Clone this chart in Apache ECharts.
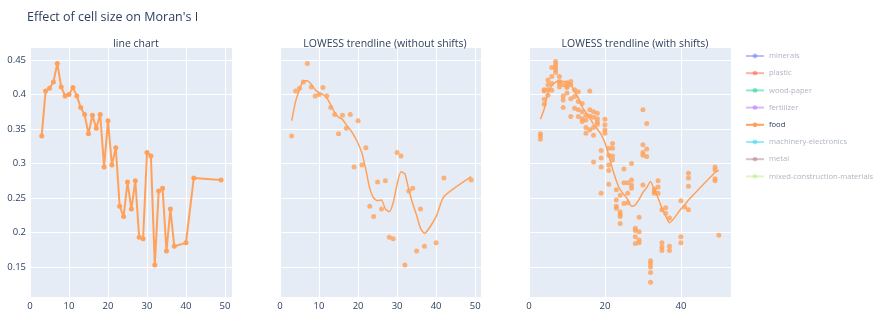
<!DOCTYPE html>
<html>
<head>
<meta charset="utf-8">
<script src="https://cdn.jsdelivr.net/npm/echarts@6/dist/echarts.min.js"></script>
<style>
  html, body { margin: 0; padding: 0; background: #fff; }
  #chart { width: 876px; height: 311px; }
</style>
</head>
<body>
<div id="chart"></div>
<script>
// cell sizes and Moran's I (food)
const cellSizes = [3, 4, 5, 6, 7, 8, 9, 10, 11, 12, 13, 14, 15, 16, 17, 18, 19, 20, 21, 22, 23, 24, 25, 26, 27, 28, 29, 30, 31, 32, 33, 34, 35, 36, 37, 40, 42, 49];
const moranI = [0.340, 0.405, 0.409, 0.418, 0.445, 0.411, 0.398, 0.400, 0.410, 0.398, 0.381, 0.371, 0.343, 0.370, 0.351, 0.371, 0.295, 0.362, 0.298, 0.323, 0.238, 0.223, 0.273, 0.234, 0.275, 0.193, 0.191, 0.316, 0.311, 0.153, 0.260, 0.264, 0.173, 0.234, 0.180, 0.185, 0.279, 0.276];
// lowess fit without shifts
const lowessNoShift = [0.362, 0.390, 0.407, 0.420, 0.420, 0.415, 0.407, 0.403, 0.400, 0.395, 0.385, 0.374, 0.367, 0.364, 0.356, 0.349, 0.340, 0.329, 0.315, 0.291, 0.264, 0.250, 0.246, 0.247, 0.234, 0.230, 0.243, 0.270, 0.288, 0.285, 0.262, 0.242, 0.225, 0.206, 0.199, 0.223, 0.252, 0.281];

// with shifts: several values per cell size
const shiftSizes = [3, 4, 5, 6, 7, 8, 9, 10, 11, 12, 13, 14, 15, 16, 17, 18, 19, 20, 21, 22, 23, 24, 25, 26, 27, 28, 29, 30, 31, 32, 33, 34, 35, 36, 37, 40, 41, 42, 49, 50];
const shiftValues = [
  [0.343, 0.340, 0.335],
  [0.407, 0.405, 0.393, 0.386],
  [0.421, 0.414, 0.407, 0.399],
  [0.439, 0.426, 0.416, 0.406],
  [0.448, 0.444, 0.440, 0.436, 0.432],
  [0.426, 0.419, 0.416, 0.411],
  [0.414, 0.398, 0.392, 0.381],
  [0.417, 0.412, 0.410, 0.402],
  [0.419, 0.414, 0.394, 0.368],
  [0.407, 0.397, 0.380],
  [0.404, 0.390, 0.378, 0.368],
  [0.387, 0.375, 0.365, 0.361],
  [0.370, 0.363, 0.352, 0.344],
  [0.405, 0.378, 0.369, 0.349],
  [0.375, 0.367, 0.352, 0.341, 0.302],
  [0.373, 0.365, 0.360, 0.357],
  [0.319, 0.308, 0.295, 0.257],
  [0.364, 0.356, 0.349, 0.344],
  [0.322, 0.312, 0.298, 0.290, 0.270],
  [0.329, 0.322, 0.311, 0.305],
  [0.262, 0.247, 0.238, 0.235],
  [0.254, 0.230, 0.226, 0.223, 0.213],
  [0.292, 0.272, 0.242],
  [0.272, 0.257, 0.243],
  [0.300, 0.276, 0.269, 0.264],
  [0.206, 0.203, 0.194, 0.184],
  [0.222, 0.201, 0.189, 0.185],
  [0.378, 0.327, 0.316, 0.312, 0.269],
  [0.358, 0.321, 0.310],
  [0.159, 0.155, 0.150, 0.142, 0.128],
  [0.263, 0.259, 0.257],
  [0.275, 0.266, 0.257],
  [0.233, 0.185, 0.179, 0.174],
  [0.236, 0.228],
  [0.221, 0.180, 0.174],
  [0.246, 0.194, 0.185],
  [0.237],
  [0.286, 0.279, 0.267, 0.233],
  [0.295, 0.291, 0.278, 0.275],
  [0.196]
];
const lowessShift = [0.364, 0.379, 0.402, 0.413, 0.418, 0.420, 0.419, 0.418, 0.414, 0.404, 0.395, 0.382, 0.374, 0.366, 0.357, 0.350, 0.342, 0.330, 0.312, 0.292, 0.275, 0.262, 0.255, 0.248, 0.238, 0.240, 0.248, 0.258, 0.265, 0.274, 0.262, 0.250, 0.235, 0.224, 0.214, 0.234, 0.240, 0.247, 0.287, 0.290];

const yTicks = [0.15, 0.2, 0.25, 0.3, 0.35, 0.4, 0.45];
const xTicks = [0, 10, 20, 30, 40, 50];
const xTicksShift = [0, 20, 40];

const legendNames = ['minerals', 'plastic', 'wood-paper', 'fertilizer', 'food', 'machinery-electronics', 'metal', 'mixed-construction-materials'];
const legendColors = ['#636efa', '#ef553b', '#00cc96', '#ab63fa', '#ffa15a', '#19d3f3', '#a8787f', '#b6e880'];

const orange = '#ffa15a';
const textColor = '#2a3f5f';
const font = 'Open Sans';

const chart = echarts.init(document.getElementById('chart'));

const grids = [
  { left: 30, top: 48, width: 202, height: 249 },
  { left: 280, top: 48, width: 201, height: 249 },
  { left: 529, top: 48, width: 202, height: 249 }
];
const xMax = [51.8, 51.5, 53.2];

function makeX(i, ticks) {
  return {
    type: 'value', gridIndex: i, min: 0, max: xMax[i],
    axisLine: { show: false },
    axisTick: { show: false, customValues: ticks },
    axisLabel: { customValues: ticks, color: textColor, fontSize: 9.5, fontFamily: font, margin: 4 },
    splitLine: { show: true, lineStyle: { color: '#fff', width: 1 } }
  };
}
function makeY(i, showLabels) {
  return {
    type: 'value', gridIndex: i, min: 0.1065, max: 0.4674,
    axisLine: { show: false },
    axisTick: { show: false, customValues: yTicks },
    axisLabel: { show: showLabels, customValues: yTicks, color: textColor, fontSize: 9.5, fontFamily: font, margin: 4 },
    splitLine: { show: true, lineStyle: { color: '#fff', width: 1 } }
  };
}

const pairs = (xs, ys) => xs.map((x, i) => [x, ys[i]]);
const shiftPoints = shiftSizes.flatMap((x, i) => shiftValues[i].map(v => [x, v]));

// dummy series only for the legend (hidden groups)
const legendSeries = legendNames.filter(n => n !== 'food').map(name => {
  const c = legendColors[legendNames.indexOf(name)];
  return {
    name: name, type: 'line', xAxisIndex: 0, yAxisIndex: 0, data: [],
    symbol: 'circle', symbolSize: 5,
    itemStyle: { color: c, opacity: 0.45 },
    lineStyle: { color: c, width: 2, opacity: 0.45 }
  };
});

const titleStyle = { fontSize: 10.5, fontWeight: 'normal', color: textColor, fontFamily: font };

const option = {
  animation: false,
  backgroundColor: '#fff',
  title: [
    { text: "Effect of cell size on Moran's I", left: 22, top: 6, textStyle: { fontSize: 12.5, fontWeight: 'normal', color: textColor, fontFamily: font } },
    { text: 'line chart', left: 131, top: 34, textAlign: 'center', textStyle: titleStyle },
    { text: 'LOWESS trendline (without shifts)', left: 380, top: 34, textAlign: 'center', textStyle: titleStyle },
    { text: 'LOWESS trendline (with shifts)', left: 630, top: 34, textAlign: 'center', textStyle: titleStyle }
  ],
  grid: grids.map(g => Object.assign({ backgroundColor: '#e5ecf6', show: true, borderWidth: 0 }, g)),
  legend: {
    orient: 'vertical', left: 745, top: 52, padding: 0,
    itemWidth: 18, itemHeight: 6, itemGap: 9.2,
    selectedMode: false,
    data: legendNames.map(name => ({
      name: name,
      textStyle: { color: name === 'food' ? textColor : 'rgba(42,63,95,0.4)', fontSize: 7.6, fontFamily: font }
    }))
  },
  xAxis: [makeX(0, xTicks), makeX(1, xTicks), makeX(2, xTicksShift)],
  yAxis: [makeY(0, true), makeY(1, false), makeY(2, false)],
  series: [
    {
      name: 'food', type: 'line', xAxisIndex: 0, yAxisIndex: 0,
      data: pairs(cellSizes, moranI),
      symbol: 'circle', symbolSize: 5,
      itemStyle: { color: orange }, lineStyle: { color: orange, width: 2 }
    },
    ...legendSeries,
    {
      name: 'food', type: 'scatter', xAxisIndex: 1, yAxisIndex: 1,
      data: pairs(cellSizes, moranI), symbolSize: 5, itemStyle: { color: orange }
    },
    {
      name: 'food', type: 'line', xAxisIndex: 1, yAxisIndex: 1,
      data: pairs(cellSizes, lowessNoShift), showSymbol: false, smooth: 0.2,
      lineStyle: { color: orange, width: 1.5 }
    },
    {
      name: 'food', type: 'scatter', xAxisIndex: 2, yAxisIndex: 2,
      data: shiftPoints, symbolSize: 5, itemStyle: { color: orange }
    },
    {
      name: 'food', type: 'line', xAxisIndex: 2, yAxisIndex: 2,
      data: pairs(shiftSizes, lowessShift), showSymbol: false, smooth: 0.2,
      lineStyle: { color: orange, width: 1.5 }
    }
  ]
};

chart.setOption(option);
</script>
</body>
</html>
